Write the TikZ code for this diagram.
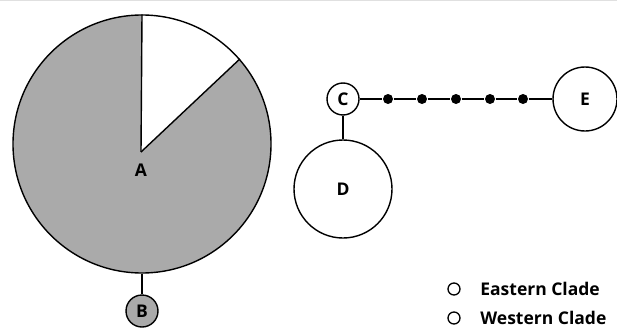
\documentclass[tikz,border=0pt]{standalone}
\usepackage{fontspec}
\setmainfont{Open Sans}
\usetikzlibrary{positioning}
\definecolor{cladegray}{RGB}{170,170,170}

\begin{document}
\begin{tikzpicture}[x=1pt,y=1pt,line width=1.4pt,
  labelfont/.style={font=\bfseries\fontsize{17.5}{17.5}\selectfont},
  clade/.style={circle,draw,inner sep=0pt,labelfont},
  midpoint/.style={circle,fill,inner sep=0pt,minimum size=10pt},
  legendmark/.style={circle,draw,line width=1.3pt,inner sep=0pt,minimum size=12pt},
  legendtext/.style={labelfont,inner sep=1pt}]
  \useasboundingbox (0,0) rectangle (617,330);
  \draw[black!12,line width=1pt] (0,329.5) -- (617,329.5); % 上端の薄い線
  \fill[cladegray] (142,186) circle[radius=129pt]; % Aの円（灰色）
  \coordinate (pievtx) at (141,178);
  \fill[white] (pievtx) -- (142,315) arc[start angle=90,end angle=41,radius=129pt] -- cycle; % 白い扇形
  \node[clade,minimum size=258pt] (A) at (142,186) {};
  \draw (pievtx) -- (A.90); % 扇形の境界（上）
  \draw (pievtx) -- (A.41); % 扇形の境界（斜め）
  \node[labelfont] (Alabel) at (141,160) {A};
  \node[clade,fill=cladegray,minimum size=32pt] (B) at (142,19) {B};
  \draw (A) -- (B);
  \node[clade,minimum size=32pt] (C) at (343,231) {C};
  \node[clade,minimum size=98pt] (D) at (343,141) {D};
  \node[clade,minimum size=64pt] (E) at (585,231) {E};
  \draw (C) -- (D);
  \foreach \i/\x in {1/388,2/422,3/456,4/490,5/523}
    \node[midpoint] (m\i) at (\x,231) {}; % 中間の点
  \draw (C) -- (m1) -- (m2) -- (m3) -- (m4) -- (m5) -- (E);
  \node[legendmark] (east) at (454,41) {}; % 凡例
  \node[legendtext,right=18pt of east] (eastlabel) {Eastern Clade};
  \node[legendmark] (west) at (454,12) {};
  \node[legendtext,right=18pt of west] (westlabel) {Western Clade};
\end{tikzpicture}
\end{document}
